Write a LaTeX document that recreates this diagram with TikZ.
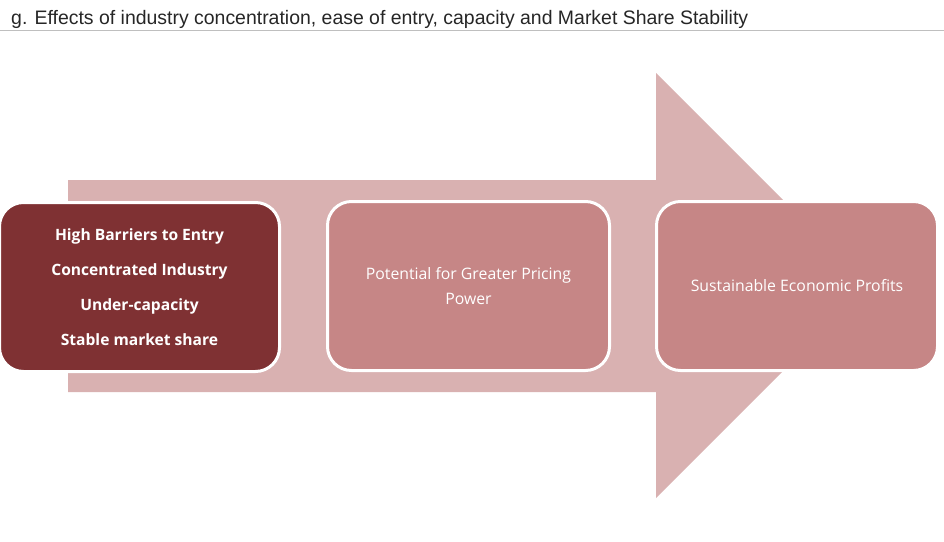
\documentclass[tikz,border=0pt]{standalone}
\usepackage{fontspec}
\setmainfont{Open Sans}
\newfontfamily\titlefont{Liberation Sans}
\definecolor{arrowc}{HTML}{D9B1B1}
\definecolor{darkbox}{HTML}{7F3133}
\definecolor{lightbox}{HTML}{C68686}
\definecolor{rulec}{HTML}{BFBFBF}
\begin{document}
\begin{tikzpicture}[x=1pt,y=-1pt,
  card/.style={draw=white,line width=3pt,rounded corners=24pt,inner sep=0pt,
    minimum width=280pt,minimum height=169pt,align=center,text=white},
  boldtxt/.style={font=\bfseries\fontsize{15.6}{35}\selectfont},
  plaintxt/.style={font=\fontsize{15.8}{25}\selectfont}]
\useasboundingbox (0,0) rectangle (944,541);
% title
\node[anchor=base west,inner sep=0pt,text=black!85] (title) at (11,24)
  {\titlefont\resizebox{737pt}{\height}{\fontsize{19.5}{22}\selectfont g. Effects of industry concentration, ease of entry, capacity and Market Share Stability}};
\draw[rulec,line width=0.8pt] (0,30.5) -- (944,30.5);
% big arrow
\fill[arrowc] (68,180) -- (656,180) -- (656,73) -- (868.5,285.5) -- (656,498) -- (656,392) -- (68,392) -- cycle;
% cards
\node[card,fill=darkbox,boldtxt] (b1) at (139.5,287)
  {High Barriers to Entry\\Concentrated Industry\\Under-capacity\\Stable market share};
\node[card,fill=lightbox,plaintxt,minimum width=282pt] (b2) at (468.5,286)
  {Potential for Greater Pricing\\Power};
\node[card,fill=lightbox,plaintxt,minimum width=281pt] (b3) at (797,286)
  {Sustainable Economic Profits};
\end{tikzpicture}
\end{document}
